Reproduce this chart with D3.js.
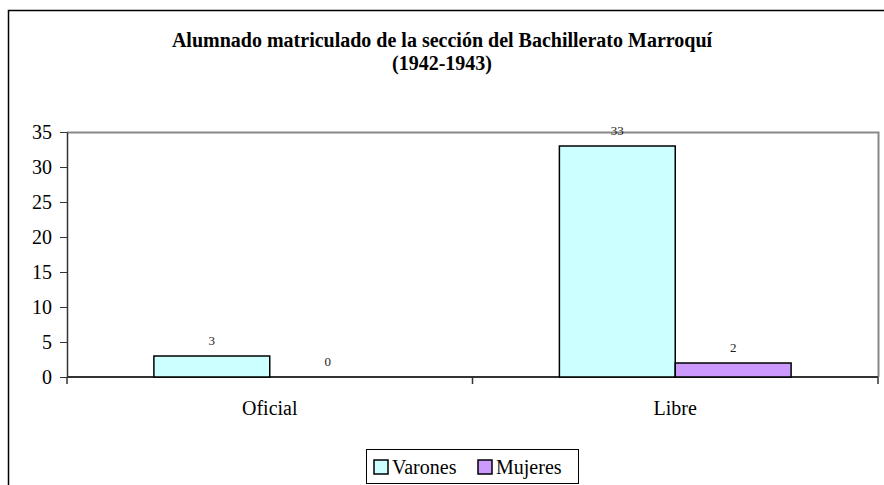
<!DOCTYPE html>
<html>
<head>
<meta charset="utf-8">
<script src="https://cdn.jsdelivr.net/npm/d3@7"></script>
<style>
  body { margin: 0; background: #fff; }
</style>
</head>
<body>
<div id="chart"></div>
<script>
// Data.
var categories = ['Oficial', 'Libre'];
var seriesNames = ['Varones', 'Mujeres'];
var varones = [3, 33];
var mujeres = [0, 2];
var yTicks = [0, 5, 10, 15, 20, 25, 30, 35];
var colors = ['#ccffff', '#cc99ff'];

var W = 884, H = 485;
var margin = {left: 67, right: 6, top: 132, bottom: 108};
var width = W - margin.left - margin.right,
    height = H - margin.top - margin.bottom;

// Texts use the browser's default serif face (Times-like).
var svg = d3.select('#chart')
    .append('svg')
        .attr('width', W)
        .attr('height', H);

// Outer chart border (runs off the bottom and right of the picture).
svg.append('rect')
    .attr('x', 8.5)
    .attr('y', 10.5)
    .attr('width', W + 10)
    .attr('height', H + 10)
    .attr('fill', 'none')
    .attr('stroke', '#000')
    .attr('stroke-width', 1.5);

// Title, two lines.
var title = svg.append('text')
    .attr('x', 442)
    .attr('y', 47)
    .attr('text-anchor', 'middle')
    .style('font-size', '20px')
    .style('font-weight', 'bold');
title.append('tspan').attr('x', 442).text('Alumnado matriculado de la sección del Bachillerato Marroquí');
title.append('tspan').attr('x', 442).attr('dy', 23).text('(1942-1943)');

var g = svg.append('g')
    .attr('transform', 'translate(' + margin.left + ', ' + margin.top + ')');

var x0 = d3.scaleBand()
    .domain(categories)
    .range([0, width]);

// Excel-style gap of 150% of a bar width.
var x1 = d3.scaleBand()
    .domain(seriesNames)
    .range([0, x0.bandwidth()])
    .paddingOuter(0.75)
    .paddingInner(0);

var y = d3.scaleLinear()
    .domain([0, 35])
    .range([height, 0]);

// Plot area border (gray, top and right).
g.append('path')
    .attr('d', 'M0,0.5H' + (width + 0.5) + 'V' + height)
    .attr('fill', 'none')
    .attr('stroke', '#888')
    .attr('stroke-width', 2);

// Y axis.
var yAxis = g.append('g')
    .attr('class', 'y-axis')
    .call(d3.axisLeft(y).tickValues(yTicks).tickSize(7).tickPadding(8).tickSizeOuter(0));
yAxis.attr('font-family', null).attr('font-size', null);
yAxis.select('.domain').attr('stroke', '#333').attr('stroke-width', 1.5);
yAxis.selectAll('line').attr('stroke', '#333');
yAxis.selectAll('text')
    .style('font-size', '20px')
    .attr('fill', '#000');

// X axis: ticks at category boundaries, labels centred.
var bounds = [0, x0.bandwidth(), width];
g.append('line')
    .attr('x1', 0).attr('x2', width)
    .attr('y1', height).attr('y2', height)
    .attr('stroke', '#333')
    .attr('stroke-width', 2);
g.selectAll('.x-tick')
    .data(bounds)
    .enter().append('line')
        .attr('class', 'x-tick')
        .attr('x1', function(d){ return d; })
        .attr('x2', function(d){ return d; })
        .attr('y1', height)
        .attr('y2', height + 7)
        .attr('stroke', '#333')
        .attr('stroke-width', 1.5);
g.selectAll('.x-label')
    .data(categories)
    .enter().append('text')
        .attr('class', 'x-label')
        .attr('x', function(d){ return x0(d) + x0.bandwidth() / 2; })
        .attr('y', height + 38)
        .attr('text-anchor', 'middle')
        .style('font-size', '20px')
        .text(function(d){ return d; });

// Bars.
var rows = categories.map(function(c, i){
    return {cat: c, values: [
        {name: seriesNames[0], value: varones[i], color: colors[0]},
        {name: seriesNames[1], value: mujeres[i], color: colors[1]}
    ]};
});

var groups = g.selectAll('.group')
    .data(rows)
    .enter().append('g')
        .attr('class', 'group')
        .attr('transform', function(d){ return 'translate(' + x0(d.cat) + ',0)'; });

groups.selectAll('rect')
    .data(function(d){ return d.values.filter(function(v){ return v.value > 0; }); })
    .enter().append('rect')
        .attr('x', function(d){ return x1(d.name); })
        .attr('y', function(d){ return y(d.value); })
        .attr('width', x1.bandwidth())
        .attr('height', function(d){ return height - y(d.value); })
        .attr('fill', function(d){ return d.color; })
        .attr('stroke', '#000')
        .attr('stroke-width', 1.5);

groups.selectAll('.val')
    .data(function(d){ return d.values; })
    .enter().append('text')
        .attr('class', 'val')
        .attr('x', function(d){ return x1(d.name) + x1.bandwidth() / 2; })
        .attr('y', function(d){ return y(d.value) - 11.5; })
        .attr('text-anchor', 'middle')
        .style('font-size', '13px')
        .attr('fill', '#222')
        .text(function(d){ return d.value; });

// Legend.
var legend = svg.append('g')
    .attr('transform', 'translate(366, 449)');
legend.append('rect')
    .attr('x', 0.5).attr('y', 0.5)
    .attr('width', 212).attr('height', 34)
    .attr('fill', '#fff')
    .attr('stroke', '#000')
    .attr('stroke-width', 1);
var legendX = [8, 112];
var items = legend.selectAll('.item')
    .data(seriesNames)
    .enter().append('g')
        .attr('class', 'item')
        .attr('transform', function(d, i){ return 'translate(' + legendX[i] + ', 0)'; });
items.append('rect')
    .attr('x', 0).attr('y', 11)
    .attr('width', 14).attr('height', 14)
    .attr('fill', function(d, i){ return colors[i]; })
    .attr('stroke', '#000')
    .attr('stroke-width', 1.5);
items.append('text')
    .attr('x', 18)
    .attr('y', 25)
    .style('font-size', '20px')
    .text(function(d){ return d; });
</script>
</body>
</html>
